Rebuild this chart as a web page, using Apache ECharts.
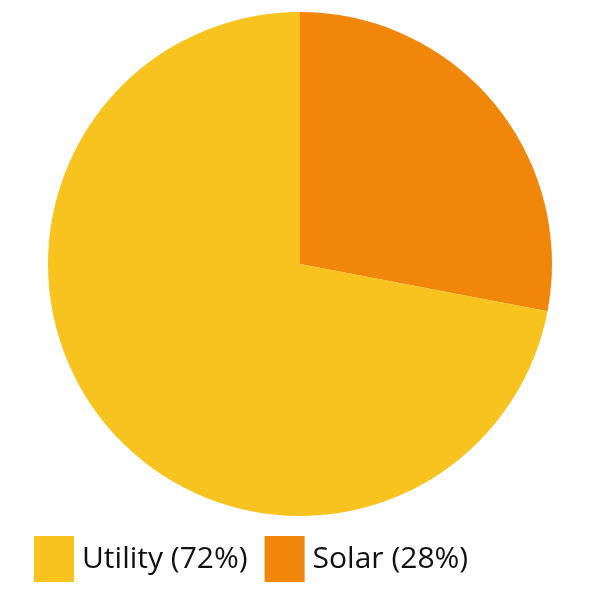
<!DOCTYPE html>
<html>
<head>
<meta charset="utf-8">
<script src="https://cdn.jsdelivr.net/npm/echarts@6/dist/echarts.min.js"></script>
<style>
html,body{margin:0;padding:0;background:#fff;}
#chart{width:600px;height:600px;}
</style>
</head>
<body>
<div id="chart"></div>
<script>
// 数据
var names=['Solar','Utility'];
var values=[28,72];
var colors=['#F0870A','#F8C21F'];
var legendOrder=['Utility','Solar'];

var myChart=echarts.init(document.getElementById('chart'));
var pieData=[];
for(var i=0;i<names.length;i++){
	pieData.push({name:names[i],value:values[i],itemStyle:{color:colors[i]}});
}
var option={
	animation:false,
	legend:{
		data:legendOrder,
		left:29,
		top:531,
		itemWidth:40,
		itemHeight:46,
		itemGap:17,
		icon:'rect',
		formatter:function(name){
			var idx=names.indexOf(name);
			return name+' ('+values[idx]+'%)';
		},
		textStyle:{
			fontFamily:'Open Sans',
			fontSize:30,
			color:'#111',
			padding:[0,0,0,3]
		}
	},
	series:[{
		type:'pie',
		center:[300,264],
		radius:252,
		startAngle:90,
		clockwise:true,
		label:{show:false},
		labelLine:{show:false},
		itemStyle:{borderWidth:0},
		emphasis:{disabled:true},
		data:pieData
	}]
};
myChart.setOption(option);
</script>
</body>
</html>
